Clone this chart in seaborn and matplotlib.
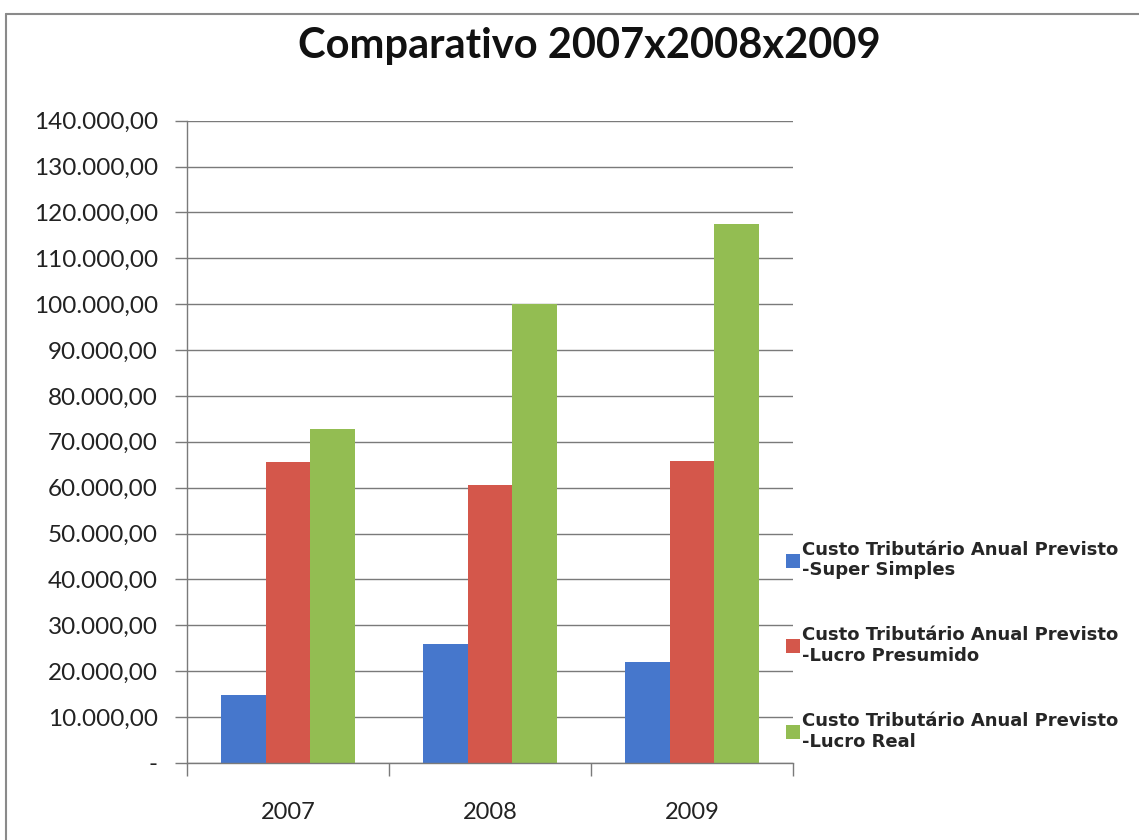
import matplotlib
matplotlib.use("Agg")
import matplotlib.pyplot as plt
from matplotlib.ticker import FuncFormatter, FixedLocator
from matplotlib.lines import Line2D
import seaborn as sns
import pandas as pd

# Annual tax cost per regime (R$)
anos = ["2007", "2008", "2009"]
super_simples = [14800, 25900, 22100]
lucro_presumido = [65600, 60600, 65800]
lucro_real = [72800, 100000, 117400]
series = [
    "Custo Tributário Anual Previsto\n-Super Simples",
    "Custo Tributário Anual Previsto\n-Lucro Presumido",
    "Custo Tributário Anual Previsto\n-Lucro Real",
]
y_ticks = list(range(0, 140001, 10000))

rows = []
for nome, valores in zip(series, [super_simples, lucro_presumido, lucro_real]):
    for ano, v in zip(anos, valores):
        rows.append({"Ano": ano, "Série": nome, "Valor": v})
df = pd.DataFrame(rows)

sns.set_theme(style="white")
plt.rcParams["font.family"] = ["Lato", "DejaVu Sans"]

cores = ["#4677cc", "#d4574b", "#93bd52"]

fig = plt.figure(figsize=(11.39, 8.40), dpi=100)
ax = fig.add_axes([0.1642, 0.0917, 0.532, 0.7646])

sns.barplot(data=df, x="Ano", y="Valor", hue="Série", palette=cores,
            width=0.667, gap=0, saturation=1, linewidth=0, ax=ax,
            legend=False, errorbar=None)

ax.set_xlim(-0.5, 2.5)
ax.set_ylim(0, 140000)
ax.set_xlabel("")
ax.set_ylabel("")

def fmt_br(v, pos):
    if v == 0:
        return "-"
    s = f"{v:,.2f}"
    return s.replace(",", "X").replace(".", ",").replace("X", ".")

ax.yaxis.set_major_locator(FixedLocator(y_ticks))
ax.yaxis.set_major_formatter(FuncFormatter(fmt_br))
ax.grid(axis="y", color="#7a7a7a", linewidth=1.0)
ax.set_axisbelow(True)

for s in ["top", "right"]:
    ax.spines[s].set_visible(False)
for s in ["left", "bottom"]:
    ax.spines[s].set_color("#7a7a7a")
    ax.spines[s].set_linewidth(1.0)

ax.tick_params(axis="y", which="major", length=9, width=1.0, color="#7a7a7a",
               labelsize=17.5, pad=12, left=True, labelcolor="#222222")
ax.set_xticks([0, 1, 2])
ax.set_xticklabels(anos)
ax.tick_params(axis="x", which="major", length=0, labelsize=17, pad=28,
               labelcolor="#222222")
ax.set_xticks([-0.5, 0.5, 1.5, 2.5], minor=True)
ax.tick_params(axis="x", which="minor", length=9, width=1.0, color="#7a7a7a",
               bottom=True)

fig.text(0.517, 0.945, "Comparativo 2007x2008x2009", ha="center", va="center",
         fontsize=30, fontweight="bold", color="#111111")

handles = [Line2D([0], [0], marker="s", linestyle="none", markersize=10,
                  markerfacecolor=c, markeredgewidth=0) for c in cores]
fig.legend(handles, series, loc="upper left", bbox_to_anchor=(0.685, 0.365),
           frameon=False, prop={"family": "DejaVu Sans", "weight": "bold", "size": 13},
           handlelength=0.6, handletextpad=0.2, labelspacing=2.6,
           borderaxespad=0)

# outer chart frame
fig.add_artist(Line2D([6 / 1139, 6 / 1139], [0, 1 - 14 / 840], color="#8a8a8a",
                      linewidth=1.5, transform=fig.transFigure))
fig.add_artist(Line2D([6 / 1139, 1], [1 - 14 / 840, 1 - 14 / 840], color="#8a8a8a",
                      linewidth=1.5, transform=fig.transFigure))

fig.savefig("out.png", dpi=100)
